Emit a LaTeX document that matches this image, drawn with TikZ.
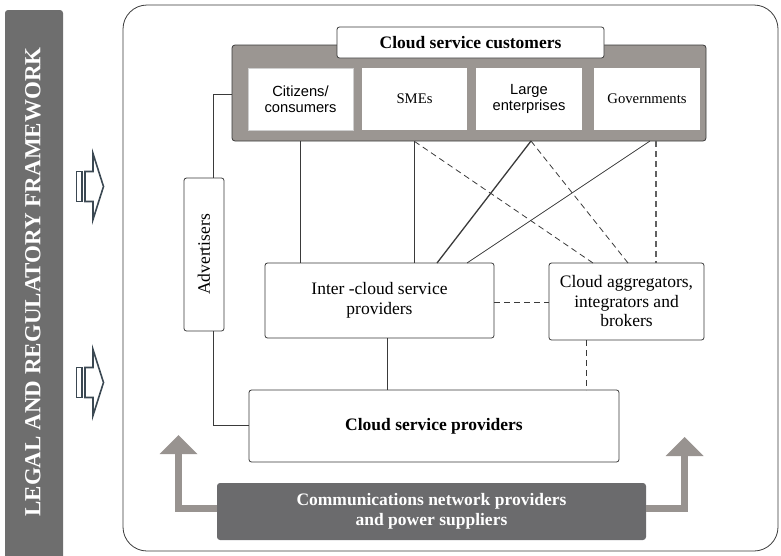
\documentclass[tikz,border=0pt]{standalone}
\usepackage{fontspec}
\setmainfont{Liberation Serif}
\newfontfamily\arialf{Liberation Sans}
\usetikzlibrary{calc}
\definecolor{linec}{HTML}{3A3A3A}
\definecolor{custgray}{HTML}{9B9692}
\definecolor{darkbox}{HTML}{6B6B6D}
\definecolor{barcol}{HTML}{6E6E6E}
\definecolor{arrgray}{HTML}{989390}
\definecolor{slate}{HTML}{3B4852}
\definecolor{lightb}{HTML}{CFCFCF}
\tikzset{
  wbox/.style={draw=linec, line width=0.8pt, fill=white, rounded corners=2.5pt, inner sep=0pt, align=center, font=\fontsize{17.5}{19.5}\selectfont},
  inbox/.style={fill=white, inner sep=0pt, align=center, font=\fontsize{14.7}{16}\selectfont},
  conn/.style={draw=linec, line width=0.8pt},
  dconn/.style={draw=linec, line width=0.8pt, dash pattern=on 6pt off 4pt},
  hollowarrow/.style={draw=slate, line width=1.6pt, fill=white, line join=miter},
  grayshaft/.style={draw=arrgray, line width=7pt, line join=miter},
  grayhead/.style={fill=arrgray, draw=none}
}
\begin{document}
\begin{tikzpicture}[x=1pt,y=-1pt]
\useasboundingbox (0,0) rectangle (781,555);
% left bar
\fill[barcol, rounded corners=3pt] (5,570) -- (5,10) -- (63,10) -- (63,570) -- cycle;
\node[rotate=90, text=white, font=\fontsize{23}{23}\bfseries, inner sep=0pt] (legal) at (33,282) {LEGAL AND REGULATORY FRAMEWORK};
% hollow arrows
\foreach \dy/\nm in {0/one,196/two}{
  \begin{scope}[yshift=-\dy pt]
    \draw[hollowarrow] (76.5,171.5) rectangle (82,201.5);
    \draw[hollowarrow] (85,171.5) -- (93,171.5) -- (93,153.5) -- (103.5,186.5) -- (93,219.5) -- (93,201.5) -- (85,201.5) -- cycle;
  \end{scope}
}
% main frame
\draw[draw=linec, line width=0.8pt, rounded corners=24pt] (123,5) rectangle (778,551);
% customers group
\node[draw=linec, line width=0.8pt, fill=custgray, rounded corners=3pt, minimum width=474pt, minimum height=96pt, inner sep=0pt] (cust) at (469,93) {};
\node[wbox, font=\fontsize{17.5}{19.5}\bfseries, minimum width=267pt, minimum height=31pt] (title) at (470.5,42.5) {Cloud service customers};
\node[inbox, draw=lightb, line width=0.8pt, minimum width=105pt, minimum height=62pt, font=\arialf\fontsize{14.7}{16}\selectfont] (cit) at (300.5,99) {Citizens/\\consumers};
\node[inbox, minimum width=105pt, minimum height=62pt] (sme) at (414.5,99) {SMEs};
\node[inbox, minimum width=106pt, minimum height=62pt, font=\arialf\fontsize{14.7}{16}\selectfont] (large) at (529,99) {Large\\enterprises};
\node[inbox, minimum width=106pt, minimum height=62pt] (gov) at (647,99) {Governments};
% other boxes
\node[wbox, minimum width=40pt, minimum height=153pt] (adv) at (204,254.5) {};
\node[rotate=90, font=\fontsize{17.5}{19.5}\selectfont, inner sep=0pt] (advt) at (adv.center) {Advertisers};
\node[wbox, minimum width=229pt, minimum height=75pt] (inter) at (379.5,300.5) {Inter -cloud service\\providers};
\node[wbox, minimum width=155pt, minimum height=77pt] (agg) at (626.5,301.5) {Cloud aggregators,\\integrators and\\brokers};
\node[wbox, font=\fontsize{17.5}{19.5}\bfseries, minimum width=370pt, minimum height=72pt] (csp) at (434,426) {Cloud service providers};
\node[fill=darkbox, rounded corners=3pt, inner sep=0pt, minimum width=429pt, minimum height=57pt, align=center, text=white, font=\fontsize{17.5}{20}\bfseries] (comms) at (431.5,511.5) {Communications network providers\\and power suppliers};
% connectors from customers
\draw[conn] (cit.center |- cust.south) -- (cit.center |- inter.north);
\draw[conn] (sme.center |- cust.south) -- (sme.center |- inter.north);
\draw[dconn] (sme.center |- cust.south) -- (593,263);
\draw[conn, line width=1.3pt] (531,141) -- (437,263);
\draw[dconn] (531,141) -- (628,263);
\draw[conn] (650,141) -- (467,263);
\draw[dconn, line width=1.1pt, draw=linec!80] (656,141) -- (656,263);
\draw[dconn] (inter.east |- 0,302) -- (agg.west |- 0,302);
\draw[conn] (387,338) -- (387,390);
\draw[dconn] (586,340) -- (586,390);
% advertisers links
\draw[conn] (adv.north -| 213,0) -- (213,94) -- (cust.west |- 0,94);
\draw[conn] (adv.south -| 213,0) -- (213,425) -- (csp.west |- 0,425);
% gray arrows
\draw[grayshaft] (comms.west |- 0,508.5) -- (178.5,508.5) -- (178.5,453);
\fill[grayhead] (159.5,454) -- (197.5,454) -- (178.5,435) -- cycle;
\draw[grayshaft] (comms.east |- 0,508.5) -- (684.5,508.5) -- (684.5,455);
\fill[grayhead] (665.5,456) -- (703.5,456) -- (684.5,437) -- cycle;
\end{tikzpicture}
\end{document}
